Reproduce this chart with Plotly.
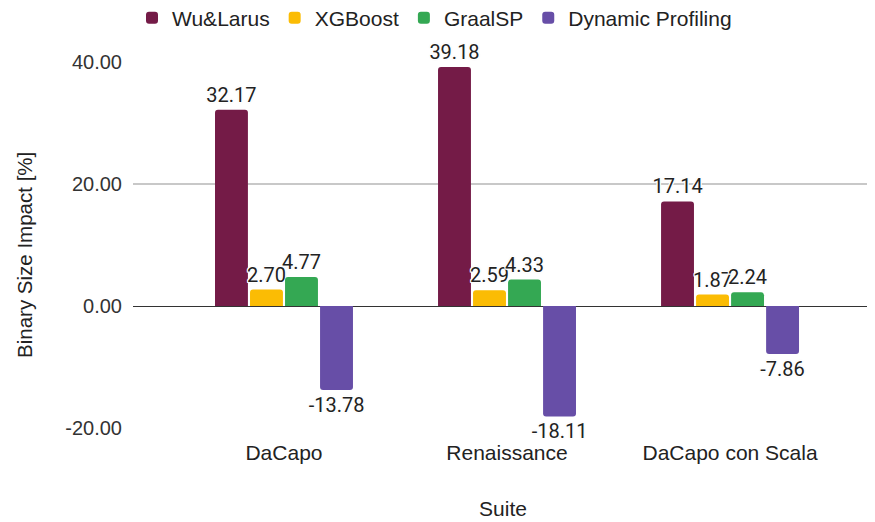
import plotly.graph_objects as go

suites = ["DaCapo", "Renaissance", "DaCapo con Scala"]
series_names = ["Wu&Larus", "XGBoost", "GraalSP", "Dynamic Profiling"]
wu_larus = [32.17, 39.18, 17.14]
xgboost = [2.70, 2.59, 1.87]
graalsp = [4.77, 4.33, 2.24]
dynamic_profiling = [-13.78, -18.11, -7.86]
colors = ["#741b47", "#fbbc04", "#34a853", "#674ea7"]
y_ticks = [-20, 0, 20, 40]
y_tick_text = ["-20.00", "0.00", "20.00", "40.00"]

SANS = "Arial, Liberation Sans"
halo = ("1px 1px 0 #fff, -1px -1px 0 #fff, 1px -1px 0 #fff, -1px 1px 0 #fff, "
        "0 1px 0 #fff, 0 -1px 0 #fff, 1px 0 0 #fff, -1px 0 0 #fff, 0 0 2px #bbb")

fig = go.Figure()
for name, vals, col in zip(series_names, [wu_larus, xgboost, graalsp, dynamic_profiling], colors):
    fig.add_trace(go.Bar(
        name=name, x=list(range(len(suites))), y=vals,
        marker=dict(color=col, line=dict(width=0)),
        text=[f"{v:.2f}" for v in vals], textposition="outside",
        constraintext="none", textangle=0,
        textfont=dict(family="Roboto, Arial", size=20, color="#222", shadow=halo),
        cliponaxis=False,
    ))

W, H = 867, 514
fig.update_layout(
    width=W, height=H,
    margin=dict(l=125, r=2, t=54, b=94),
    paper_bgcolor="white", plot_bgcolor="white",
    barmode="group", bargap=0.372, bargroupgap=0.06, barcornerradius=3,
    font=dict(family=SANS, color="#333"),
    legend=dict(orientation="h", xref="container", yref="container",
                x=124 / W, xanchor="left", y=1 - 10 / H, yanchor="middle",
                font=dict(family=SANS, size=21, color="#222"),
                itemwidth=30, traceorder="normal"),
    xaxis=dict(
        tickmode="array", tickvals=list(range(len(suites))), ticktext=suites,
        range=[-0.677, 2.641], showgrid=False, zeroline=False, showline=False,
        ticks="outside", ticklen=6, tickcolor="rgba(0,0,0,0)",
        tickfont=dict(family=SANS, size=21, color="#222"),
        title=dict(text="Suite", font=dict(family=SANS, size=21, color="#222"), standoff=38),
    ),
    yaxis=dict(
        range=[-20, 40], tickmode="array", tickvals=y_ticks, ticktext=y_tick_text,
        showgrid=True, gridcolor="#c8c8c8", gridwidth=1.5,
        zeroline=True, zerolinecolor="#333", zerolinewidth=1,
        tickfont=dict(family=SANS, size=20, color="#333"),
        ticks="outside", ticklen=6, tickcolor="rgba(0,0,0,0)",
    ),
    annotations=[dict(
        text="Binary Size Impact [%]", textangle=-90, showarrow=False,
        xref="paper", yref="paper", x=-0.146, y=0.4727,
        xanchor="center", yanchor="middle",
        font=dict(family=SANS, size=20.5, color="#222"),
    )],
)
fig.write_html("out.html")
